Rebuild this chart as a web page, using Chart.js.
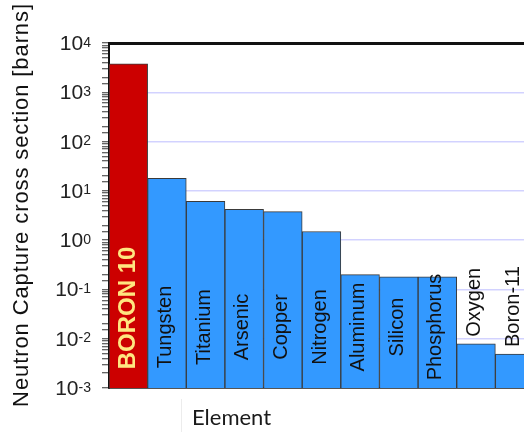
<!DOCTYPE html>
<html>
<head>
<meta charset="utf-8">
<script src="https://cdn.jsdelivr.net/npm/chart.js@4/dist/chart.umd.min.js"></script>
<style>
  html, body { margin: 0; padding: 0; background: #ffffff; overflow: hidden; }
  #wrap { width: 540px; height: 432px; }
</style>
</head>
<body>
<div id="wrap"><canvas id="c" width="540" height="432"></canvas></div>
<script>
// ---- data ----
const categories = ['BORON 10', 'Tungsten', 'Titanium', 'Arsenic', 'Copper', 'Nitrogen',
                    'Aluminum', 'Silicon', 'Phosphorus', 'Oxygen', 'Boron-11'];
const crossSections = [3800, 18, 6.1, 4.2, 3.8, 1.5, 0.2, 0.18, 0.18, 0.0079, 0.0049];
const tickExponents = [-3, -2, -1, 0, 1, 2, 3, 4];
const yAxisTitle = 'Neutron Capture cross section [barns]';
const xAxisTitle = 'Element';
const highlightIndex = 0;

const RED = '#cc0000', BLUE = '#3399ff', YELLOW = '#ffe680';

function isDecade(v) {
  const l = Math.log10(v);
  return Math.abs(l - Math.round(l)) < 1e-9;
}

const decor = {
  id: 'decor',
  beforeDatasetsDraw(chart) {
    const ctx = chart.ctx, a = chart.chartArea;
    ctx.save();
    ctx.strokeStyle = '#111';
    ctx.lineWidth = 3;
    ctx.beginPath();
    ctx.moveTo(a.left - 1, a.top + 0.5);
    ctx.lineTo(chart.width, a.top + 0.5);
    ctx.stroke();
    ctx.restore();
  },
  afterDatasetsDraw(chart) {
    const ctx = chart.ctx, a = chart.chartArea;
    const meta = chart.getDatasetMeta(0);
    meta.data.forEach((bar, i) => {
      const hi = i === highlightIndex;
      const text = categories[i];
      ctx.save();
      ctx.font = hi ? 'bold 24px "Liberation Sans", Arial, sans-serif' : '20px "Liberation Sans", Arial, sans-serif';
      ctx.fillStyle = hi ? YELLOW : '#111';
      const w = ctx.measureText(text).width;
      const barH = a.bottom - bar.y;
      ctx.translate(bar.x - (hi ? 0 : 1.5), 0);
      ctx.rotate(-Math.PI / 2);
      ctx.textBaseline = 'middle';
      if (barH > w) {
        const cy = a.bottom - (hi ? 80 : 61);
        ctx.textAlign = 'center';
        ctx.fillText(text, -cy, 0);
      } else {
        ctx.textAlign = 'left';
        ctx.fillText(text, -(bar.y - 7), 0);
      }
      ctx.restore();
    });
  },
  afterDraw(chart) {
    const ctx = chart.ctx;
    const ys = chart.scales.y;
    ctx.save();
    ctx.fillStyle = '#222';
    const rightX = 91;
    tickExponents.forEach(e => {
      const py = ys.getPixelForValue(Math.pow(10, e));
      const expStr = String(e);
      ctx.font = '14px "Liberation Sans", Arial, sans-serif';
      const ew = ctx.measureText(expStr).width;
      ctx.textAlign = 'left';
      ctx.textBaseline = 'alphabetic';
      ctx.fillText(expStr, rightX - ew, py + 3.5);
      ctx.font = '21px "Liberation Sans", Arial, sans-serif';
      ctx.textAlign = 'right';
      ctx.fillText('10', rightX - ew, py + 7);
    });
    ctx.restore();

    ctx.save();
    ctx.fillStyle = '#111';
    ctx.font = '22px "Liberation Sans", Arial, sans-serif';
    try { ctx.letterSpacing = '0.9px'; } catch (e) {}
    ctx.translate(28, 205);
    ctx.rotate(-Math.PI / 2);
    ctx.textAlign = 'center';
    ctx.textBaseline = 'alphabetic';
    ctx.fillText(yAxisTitle, 0, 0);
    ctx.restore();

    ctx.save();
    ctx.fillStyle = '#1a1a1a';
    ctx.font = '22px Lato, "Open Sans", sans-serif';
    ctx.textAlign = 'left';
    ctx.textBaseline = 'alphabetic';
    ctx.fillText(xAxisTitle, 192, 425);
    ctx.restore();

    ctx.save();
    ctx.strokeStyle = '#ececec';
    ctx.lineWidth = 1;
    ctx.beginPath();
    ctx.moveTo(181.5, 399);
    ctx.lineTo(181.5, 432);
    ctx.stroke();
    ctx.restore();
  }
};

new Chart(document.getElementById('c'), {
  type: 'bar',
  data: {
    labels: categories,
    datasets: [{
      data: crossSections,
      backgroundColor: ctx => ctx.dataIndex === highlightIndex ? RED : BLUE,
      borderColor: '#3a3a3a',
      borderWidth: 1,
      barPercentage: 1,
      categoryPercentage: 1
    }]
  },
  options: {
    responsive: false,
    animation: false,
    devicePixelRatio: 1,
    layout: { padding: { top: 43, right: 6, left: 0, bottom: 0 } },
    plugins: { legend: { display: false }, tooltip: { enabled: false }, title: { display: false } },
    scales: {
      x: {
        type: 'category',
        offset: true,
        grid: { display: false },
        ticks: { display: false },
        border: { display: true, color: '#555', width: 2 },
        afterFit: s => { s.height = 44; }
      },
      y: {
        type: 'logarithmic',
        min: 0.001,
        max: 10000,
        ticks: { display: false },
        grid: {
          color: ctx => (ctx.tick && isDecade(ctx.tick.value) && ctx.tick.value < 10000 && ctx.tick.value > 0.001) ? 'rgba(205,205,255,0.9)' : 'rgba(0,0,0,0)',
          lineWidth: 1.5,
          drawTicks: true,
          tickLength: 7,
          tickColor: '#333',
          tickWidth: 1
        },
        border: { display: true, color: '#111', width: 2 },
        afterFit: s => { s.width = 109; }
      }
    }
  },
  plugins: [decor]
});
</script>
</body>
</html>
